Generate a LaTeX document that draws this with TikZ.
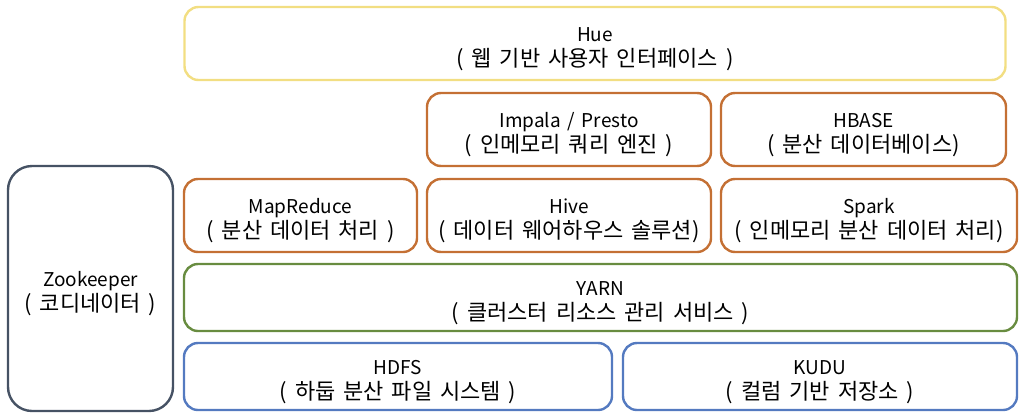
\documentclass[tikz,border=0pt]{standalone}
\usepackage{fontspec}
\setmainfont[WordSpace=1.6]{Noto Sans CJK KR}
\newcommand\krline{\fontsize{22}{25}\selectfont}
\newcommand\liftline{\rule{0pt}{25pt}}
\definecolor{hueyellow}{RGB}{242,222,130}
\definecolor{engorange}{RGB}{196,112,52}
\definecolor{yarngreen}{RGB}{104,140,64}
\definecolor{storeblue}{RGB}{84,122,192}
\definecolor{zkgray}{RGB}{70,82,100}
\usetikzlibrary{positioning}

\begin{document}
\begin{tikzpicture}[x=1pt,y=-1pt,
  layer/.style={draw,line width=2.4pt,rounded corners=14pt,align=center,
    inner sep=0pt,font=\fontsize{19}{25}\selectfont},
  tall/.style={layer,minimum height=73pt},
  flat/.style={layer,minimum height=67pt}]
  \useasboundingbox (0,0) rectangle (1024,418);
  % top : web ui
  \node[tall,hueyellow,text=black,minimum width=821pt] (hue) at (595,43.5) {\liftline Hue\\\krline( 웹 기반 사용자 인터페이스 )};
  % engines
  \node[tall,engorange,text=black,minimum width=284pt] (impala) at (569,129.5) {\liftline Impala / Presto\\\krline( 인메모리 쿼리 엔진 )};
  \node[tall,engorange,text=black,minimum width=285pt] (hbase) at (863.5,129.5) {\liftline HBASE\\\krline( 분산 데이터베이스)};
  \node[tall,engorange,text=black,minimum width=233pt] (mapred) at (300.5,215.5) {\liftline MapReduce\\\krline( 분산 데이터 처리 )};
  \node[tall,engorange,text=black,minimum width=284pt] (hive) at (569,215.5) {\liftline Hive\\\krline( 데이터 웨어하우스 솔루션)};
  \node[tall,engorange,text=black,minimum width=296pt] (spark) at (869,215.5) {\liftline Spark\\\krline( 인메모리 분산 데이터 처리)};
  % resources
  \node[flat,yarngreen,text=black,minimum width=833pt] (yarn) at (600.5,297.5) {\liftline YARN\\\krline( 클러스터 리소스 관리 서비스 )};
  % storage
  \node[flat,storeblue,text=black,minimum width=428pt] (hdfs) at (398,376.5) {\liftline HDFS\\\krline( 하둡 분산 파일 시스템 )};
  \node[flat,storeblue,text=black,minimum width=394pt] (kudu) at (820,376.5) {\liftline KUDU\\\krline( 컬럼 기반 저장소 )};
  % coordinator
  \node[layer,zkgray,text=black,minimum width=165pt,minimum height=245pt,rounded corners=24pt] (zk) at (90.5,288.5) {\liftline Zookeeper\\\krline( 코디네이터 )};
\end{tikzpicture}
\end{document}
